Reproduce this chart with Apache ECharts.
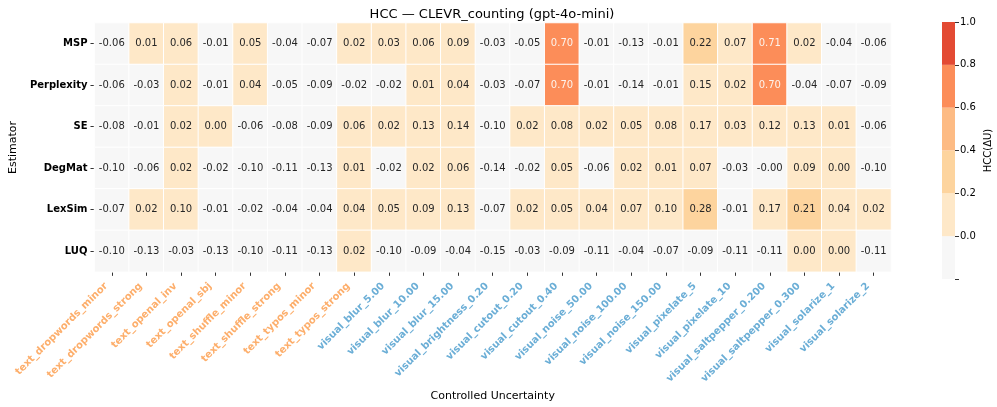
<!DOCTYPE html>
<html><head><meta charset="utf-8">
<script src="https://cdn.jsdelivr.net/npm/echarts@6/dist/echarts.min.js"></script>
<style>html,body{margin:0;padding:0;background:#fff}#c{width:997px;height:407px}</style>
</head><body><div id="c"></div>
<script>
var conditions = ["text_dropwords_minor","text_dropwords_strong","text_openal_inv","text_openal_sbj","text_shuffle_minor","text_shuffle_strong","text_typos_minor","text_typos_strong","visual_blur_5.00","visual_blur_10.00","visual_blur_15.00","visual_brightness_0.20","visual_cutout_0.20","visual_cutout_0.40","visual_noise_50.00","visual_noise_100.00","visual_noise_150.00","visual_pixelate_5","visual_pixelate_10","visual_saltpepper_0.200","visual_saltpepper_0.300","visual_solarize_1","visual_solarize_2"];
var estimators = ["MSP","Perplexity","SE","DegMat","LexSim","LUQ"];
var MSP = [-0.06,0.01,0.06,-0.01,0.05,-0.04,-0.07,0.02,0.03,0.06,0.09,-0.03,-0.05,0.70,-0.01,-0.13,-0.01,0.22,0.07,0.71,0.02,-0.04,-0.06];
var Perplexity = [-0.06,-0.03,0.02,-0.01,0.04,-0.05,-0.09,-0.02,-0.02,0.01,0.04,-0.03,-0.07,0.70,-0.01,-0.14,-0.01,0.15,0.02,0.70,-0.04,-0.07,-0.09];
var SE = [-0.08,-0.01,0.02,0.00,-0.06,-0.08,-0.09,0.06,0.02,0.13,0.14,-0.10,0.02,0.08,0.02,0.05,0.08,0.17,0.03,0.12,0.13,0.01,-0.06];
var DegMat = [-0.10,-0.06,0.02,-0.02,-0.10,-0.11,-0.13,0.01,-0.02,0.02,0.06,-0.14,-0.02,0.05,-0.06,0.02,0.01,0.07,-0.03,-0.001,0.09,0.00,-0.10];
var LexSim = [-0.07,0.02,0.10,-0.01,-0.02,-0.04,-0.04,0.04,0.05,0.09,0.13,-0.07,0.02,0.05,0.04,0.07,0.10,0.28,-0.01,0.17,0.21,0.04,0.02];
var LUQ = [-0.10,-0.13,-0.03,-0.13,-0.10,-0.11,-0.13,0.02,-0.10,-0.09,-0.04,-0.15,-0.03,-0.09,-0.11,-0.04,-0.07,-0.09,-0.11,-0.11,0.00,0.00,-0.11];
var colorbarTicks = [-0.2,0.0,0.2,0.4,0.6,0.8,1.0];

var rows = [MSP, Perplexity, SE, DegMat, LexSim, LUQ];
var binEdges = colorbarTicks;
var binColors = ['#f7f7f7','#fee8c8','#fdd49e','#fdbb84','#fc8d59','#e34a33'];

var data = [];
rows.forEach(function(r, yi){
  r.forEach(function(v, xi){
    data.push({value:[xi, yi, v], label:{color: v >= 0.6 ? '#fdf3ec' : '#262626'}});
  });
});

var pieces = [];
for (var i = 0; i < binColors.length; i++) {
  var p = {color: binColors[i]};
  if (i === 0) { p.lt = 0; } else if (i === binColors.length-1) { p.gte = binEdges[i]; } else { p.gte = binEdges[i]; p.lt = binEdges[i+1]; }
  pieces.push(p);
}

var cbSeries = [];
for (var k = 0; k < binColors.length; k++) {
  cbSeries.push({type:'bar', xAxisIndex:1, yAxisIndex:1, stack:'cb', barWidth:'100%', silent:true,
    data:[k===0 ? binEdges[0] : +(binEdges[k+1]-binEdges[k]).toFixed(2)],
    itemStyle:{color:binColors[k]}});
}

var FONT = 'DejaVu Sans';
var chart = echarts.init(document.getElementById('c'), null, {renderer:'canvas'});
chart.setOption({
  animation:false,
  textStyle:{fontFamily:FONT},
  title:{text:'HCC — CLEVR_counting (gpt-4o-mini)', left:487, top:3, textAlign:'center',
    textStyle:{fontFamily:FONT, fontSize:13, fontWeight:'normal', color:'#000'}},
  grid:[{left:84, top:23, width:807, height:256},
        {left:942, top:22, width:13, height:257}],
  xAxis:[{type:'category', data:conditions, gridIndex:0,
    axisLine:{show:false}, axisTick:{show:true, alignWithLabel:true, length:4, lineStyle:{color:'#333'}},
    axisLabel:{rotate:45, interval:0, margin:7, fontSize:10, fontWeight:'bold', fontFamily:FONT,
      padding:[0, 8, 11, 0],
      color:function(v){ return v.indexOf('text_')===0 ? '#fdae6b' : '#6baed6'; }},
    name:'Controlled Uncertainty', nameLocation:'middle', nameGap:107,
    nameTextStyle:{fontFamily:FONT, fontSize:11, color:'#000'}, splitArea:{show:false}},
    {type:'category', data:['cb'], gridIndex:1, show:false}],
  yAxis:[{type:'category', data:estimators, gridIndex:0, inverse:true,
    axisLine:{show:false}, axisTick:{show:true, alignWithLabel:true, length:4, lineStyle:{color:'#333'}},
    axisLabel:{fontSize:10, fontWeight:'bold', color:'#000', margin:7, fontFamily:FONT},
    name:'Estimator', nameLocation:'middle', nameGap:67, nameRotate:90,
    nameTextStyle:{fontFamily:FONT, fontSize:11, color:'#000'}},
    {type:'value', gridIndex:1, position:'right', min:-0.2, max:1.0, interval:0.2,
    axisLine:{show:false}, splitLine:{show:false},
    axisTick:{show:true, length:4, lineStyle:{color:'#333'}},
    axisLabel:{fontSize:10, color:'#000', margin:5, fontFamily:FONT,
      formatter:function(v){ return v < -0.05 ? '' : v.toFixed(1); }},
    name:'HCC(ΔU)', nameLocation:'middle', nameGap:28, nameRotate:90,
    nameTextStyle:{fontFamily:FONT, fontSize:10, color:'#000'}}],
  visualMap:{type:'piecewise', show:false, dimension:2, seriesIndex:0, pieces:pieces},
  series:[{type:'heatmap', xAxisIndex:0, yAxisIndex:0, data:data,
    itemStyle:{borderColor:'#ffffff', borderWidth:1},
    label:{show:true, fontSize:10, fontFamily:FONT,
      formatter:function(p){ return p.value[2].toFixed(2); }}}].concat(cbSeries)
});
</script></body></html>
